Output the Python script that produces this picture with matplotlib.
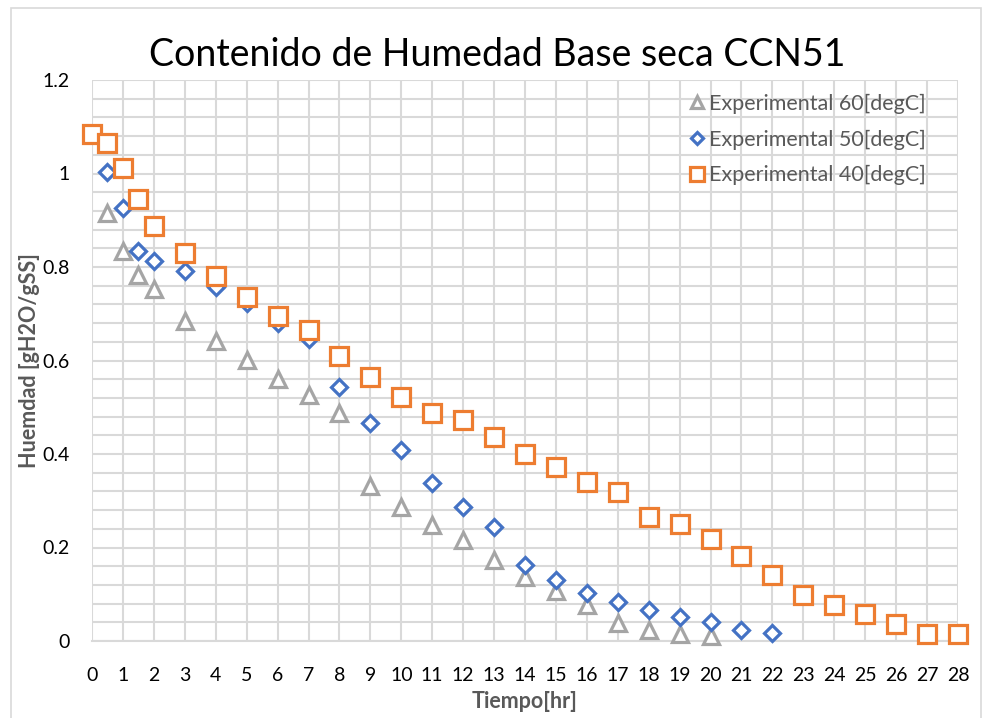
import matplotlib.pyplot as plt
from matplotlib.patches import Rectangle
from matplotlib.ticker import MultipleLocator

plt.rcParams['font.family'] = ['Lato', 'DejaVu Sans']
plt.rcParams['xtick.major.pad'] = 19
plt.rcParams['ytick.major.pad'] = 16

# Experimental 60 degC
t_60 = [0.5, 1, 1.5, 2, 3, 4, 5, 6, 7, 8, 9, 10, 11, 12, 13, 14, 15, 16, 17, 18, 19, 20]
h_60 = [0.916, 0.835, 0.783, 0.754, 0.685, 0.642, 0.601, 0.560, 0.526, 0.488,
        0.332, 0.287, 0.248, 0.217, 0.173, 0.137, 0.106, 0.078, 0.038, 0.024, 0.014, 0.011]

# Experimental 50 degC
t_50 = [0.5, 1, 1.5, 2, 3, 4, 5, 6, 7, 8, 9, 10, 11, 12, 13, 14, 15, 16, 17, 18, 19, 20, 21, 22]
h_50 = [1.003, 0.927, 0.835, 0.813, 0.791, 0.757, 0.723, 0.680, 0.646, 0.543,
        0.466, 0.409, 0.338, 0.287, 0.244, 0.163, 0.130, 0.103, 0.083, 0.066,
        0.051, 0.041, 0.024, 0.017]

# Experimental 40 degC
t_40 = [0, 0.5, 1, 1.5, 2, 3, 4, 5, 6, 7, 8, 9, 10, 11, 12, 13, 14, 15, 16, 17,
        18, 19, 20, 21, 22, 23, 24, 25, 26, 27, 28]
h_40 = [1.085, 1.065, 1.012, 0.945, 0.888, 0.829, 0.781, 0.735, 0.696, 0.666,
        0.610, 0.565, 0.522, 0.488, 0.473, 0.436, 0.400, 0.372, 0.340, 0.319,
        0.265, 0.250, 0.218, 0.182, 0.141, 0.098, 0.077, 0.058, 0.036, 0.015, 0.015]

W, H = 987, 718
fig = plt.figure(figsize=(W / 100, H / 100), dpi=100)
ax = fig.add_axes([92 / W, 1 - 641 / H, (958 - 92) / W, (641 - 80) / H])

# chart area border
fig.patches.append(Rectangle((11 / W, -0.05), (981 - 11) / W, 1 - 8 / H + 0.05,
                             transform=fig.transFigure, fill=False,
                             edgecolor='#d9d9d9', linewidth=1.2))

ax.plot(t_60, h_60, linestyle='none', marker='^', markersize=12,
        markerfacecolor='white', markeredgecolor='#a5a5a5', markeredgewidth=2.3,
        label='Experimental 60[degC]', zorder=3, clip_on=False)
ax.plot(t_50, h_50, linestyle='none', marker='D', markersize=8.5,
        markerfacecolor='white', markeredgecolor='#4472c4', markeredgewidth=2.3,
        label='Experimental 50[degC]', zorder=4, clip_on=False)
ax.plot(t_40, h_40, linestyle='none', marker='s', markersize=13.5,
        markerfacecolor='white', markeredgecolor='#ed7d31', markeredgewidth=2.3,
        label='Experimental 40[degC]', zorder=5, clip_on=False)

ax.set_xlim(0, 28)
ax.set_ylim(0, 1.2)
ax.xaxis.set_major_locator(MultipleLocator(1))
ax.yaxis.set_minor_locator(MultipleLocator(0.04))
ax.set_yticks([0, 0.2, 0.4, 0.6, 0.8, 1.0, 1.2])
ax.set_yticklabels(['0', '0.2', '0.4', '0.6', '0.8', '1', '1.2'])

ax.grid(True, which='major', color='#d9d9d9', linewidth=1.5)
ax.grid(True, which='minor', axis='y', color='#d9d9d9', linewidth=1.5)
ax.set_axisbelow(True)
ax.tick_params(which='both', length=0, labelsize=14)
for s in ['top', 'right', 'left']:
    ax.spines[s].set_visible(False)
ax.spines['bottom'].set_color('#d9d9d9')
ax.spines['bottom'].set_linewidth(1.5)

fig.text(497 / W, 1 - 55 / H, 'Contenido de Humedad Base seca CCN51', fontsize=27,
         ha='center', va='center')
ax.set_xlabel('Tiempo[hr]', fontsize=15.5, fontweight='bold', color='#595959')
ax.xaxis.set_label_coords(0.5, -(702 - 641) / (641 - 80), transform=ax.transAxes)
ax.xaxis.label.set_va('center')
ax.set_ylabel('Huemdad [gH2O/gSS]', fontsize=15.5, fontweight='bold', color='#595959')
ax.yaxis.set_label_coords(-(92 - 30) / (958 - 92), 0.5, transform=ax.transAxes)
ax.yaxis.label.set_va('center')

leg = ax.legend(loc='upper right', bbox_to_anchor=(0.985, 1.01), frameon=False,
                fontsize=15.5, handlelength=0.8, handletextpad=0.15, labelspacing=0.72,
                markerscale=0.75)
for txt in leg.get_texts():
    txt.set_color('#595959')

plt.savefig('out.png', dpi=100)
